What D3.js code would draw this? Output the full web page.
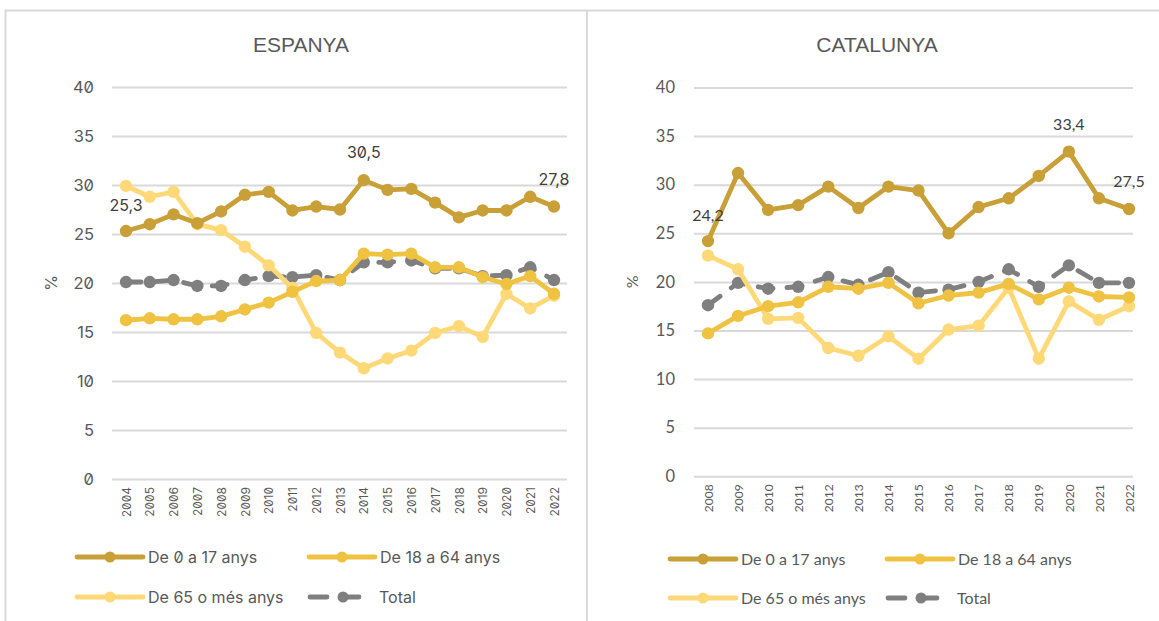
<!DOCTYPE html>
<html><head><meta charset="utf-8">
<script src="https://cdn.jsdelivr.net/npm/d3@7"></script>
<style>
html,body{margin:0;padding:0;background:#fff;}
svg{display:block;}
</style></head>
<body>
<svg id="chart" width="1159" height="621"></svg>
<script>
// ---- DATA ----
const seriesNames = ["De 0 a 17 anys", "De 18 a 64 anys", "De 65 o més anys", "Total"];
const esYears = [2004,2005,2006,2007,2008,2009,2010,2011,2012,2013,2014,2015,2016,2017,2018,2019,2020,2021,2022];
const es0to17  = [25.3,26.0,27.0,26.1,27.3,29.0,29.3,27.4,27.8,27.5,30.5,29.5,29.6,28.2,26.7,27.4,27.4,28.8,27.8];
const es18to64 = [16.2,16.4,16.3,16.3,16.6,17.3,18.0,19.1,20.2,20.3,23.0,22.9,23.0,21.6,21.6,20.6,19.9,20.7,18.9];
const es65plus = [29.9,28.8,29.3,26.0,25.4,23.7,21.8,19.5,14.9,12.9,11.3,12.3,13.1,14.9,15.6,14.5,18.9,17.4,18.7];
const esTotal  = [20.1,20.1,20.3,19.7,19.7,20.3,20.7,20.6,20.8,20.3,22.1,22.1,22.3,21.5,21.5,20.7,20.8,21.6,20.3];
const catYears = [2008,2009,2010,2011,2012,2013,2014,2015,2016,2017,2018,2019,2020,2021,2022];
const cat0to17  = [24.2,31.2,27.4,27.9,29.8,27.6,29.8,29.4,25.0,27.7,28.6,30.9,33.4,28.6,27.5];
const cat18to64 = [14.7,16.5,17.5,17.9,19.5,19.3,19.9,17.8,18.6,18.9,19.8,18.2,19.4,18.5,18.4];
const cat65plus = [22.7,21.3,16.2,16.3,13.2,12.4,14.4,12.1,15.1,15.5,19.4,12.1,18.0,16.1,17.5];
const catTotal  = [17.6,19.9,19.3,19.5,20.5,19.7,21.0,18.9,19.2,20.0,21.3,19.5,21.7,19.9,19.9];
const yTicks = [0,5,10,15,20,25,30,35,40];
// labelled points: [series index, year]
const esLabels = [[0,2004],[0,2014],[0,2022]];
const catLabels = [[0,2008],[0,2020],[0,2022]];

// ---- STYLE ----
const colors = ["#C9A038","#F0C242","#FFD878","#7F7F7F"];
const svg = d3.select("#chart");

// frame
svg.append("rect").attr("x",5.5).attr("y",10.5).attr("width",1170).attr("height",700)
  .attr("fill","none").attr("stroke","#d9d9d9").attr("stroke-width",2);
svg.append("line").attr("x1",587).attr("x2",587).attr("y1",10).attr("y2",621)
  .attr("stroke","#d9d9d9").attr("stroke-width",2);

const panels = [
  {title:"ESPANYA", titleX:301, years:esYears, series:[es0to17,es18to64,es65plus,esTotal],
   xr:[126,554], yr:[479,87], grid:[112,567], tickX:94, pctX:51, labels:esLabels,
   font:"Inter, 'Noto Sans', sans-serif", feat:"'zero' 1",
   legend:{x1:77, x2:309, y1:557, y2:597}},
  {title:"CATALUNYA", titleX:877, years:catYears, series:[cat0to17,cat18to64,cat65plus,catTotal],
   xr:[708,1129], yr:[476.3,87.5], grid:[694,1133], tickX:675, pctX:632, labels:catLabels,
   font:"Lato, 'Open Sans', sans-serif", feat:"normal",
   legend:{x1:670, x2:887, y1:559, y2:598}}
];

panels.forEach(p => {
  const g = svg.append("g").style("font-family", p.font).style("font-feature-settings", p.feat);
  const x = d3.scalePoint().domain(p.years).range(p.xr);
  const y = d3.scaleLinear().domain([0,40]).range(p.yr);

  // title
  svg.append("text").attr("x",p.titleX).attr("y",52).attr("text-anchor","middle")
    .style("font-family","'Liberation Sans',Arial,sans-serif")
    .style("font-size","21px").attr("fill","#595959").text(p.title);

  // grid
  const yAxis = d3.axisLeft(y).tickValues(yTicks).tickSize(-(p.grid[1]-p.grid[0])).tickPadding(p.grid[0]-p.tickX);
  const ya = g.append("g").attr("transform",`translate(${p.grid[0]},0)`).call(yAxis);
  ya.select(".domain").remove();
  ya.selectAll(".tick line").attr("stroke","#d9d9d9").attr("stroke-width",2);
  ya.selectAll(".tick text").attr("fill","#595959").style("font-size","16.5px").style("font-family",p.font);

  // x axis labels
  const xa = g.append("g").attr("transform",`translate(0,${p.yr[0]})`)
    .call(d3.axisBottom(x).tickSize(0).tickPadding(0));
  xa.select(".domain").remove();
  xa.selectAll(".tick text")
    .attr("transform","rotate(-90)").attr("text-anchor","end")
    .attr("x",-8).attr("y",0).attr("dy","0.35em")
    .attr("fill","#595959").style("font-size","12px").style("font-family",p.font);

  // % label
  g.append("text").attr("transform",`translate(${p.pctX},${(p.yr[0]+p.yr[1])/2}) rotate(-90)`)
    .attr("text-anchor","middle").attr("dy","0.35em").attr("fill","#595959")
    .style("font-size","16px").text("%");

  // series
  const order = [3,2,1,0];
  order.forEach(si => {
    const vals = p.series[si];
    const data = p.years.map((yr,i)=>({yr, v:vals[i]}));
    const line = d3.line().x(d=>x(d.yr)).y(d=>y(d.v));
    const path = g.append("path").datum(data).attr("d",line)
      .attr("fill","none").attr("stroke",colors[si]).attr("stroke-width",4.8)
      .attr("stroke-linejoin","round").attr("stroke-linecap","round");
    if (si===3) path.attr("stroke-dasharray","15,14");
    g.selectAll(null).data(data).enter().append("circle")
      .attr("cx",d=>x(d.yr)).attr("cy",d=>y(d.v)).attr("r",6.2).attr("fill",colors[si]);
  });

  // data labels
  p.labels.forEach(([si,yr]) => {
    const i = p.years.indexOf(yr);
    const v = p.series[si][i];
    const dy = i===0 ? -20 : -22;
    g.append("text").attr("x",x(yr)).attr("y",y(v)+dy).attr("text-anchor","middle")
      .attr("fill","#404040").style("font-size","16px")
      .text(d3.format(".1f")(v).replace(".",","));
  });

  // legend
  const L = p.legend;
  const items = [
    {si:0, x:L.x1, y:L.y1},{si:1, x:L.x2, y:L.y1},{si:2, x:L.x1, y:L.y2},{si:3, x:L.x2+1, y:L.y2}
  ];
  items.forEach(it => {
    const lg = g.append("g");
    if (it.si===3) {
      lg.append("line").attr("x1",it.x).attr("x2",it.x+17).attr("y1",it.y).attr("y2",it.y)
        .attr("stroke",colors[3]).attr("stroke-width",4.8).attr("stroke-linecap","round");
      lg.append("line").attr("x1",it.x+32).attr("x2",it.x+49).attr("y1",it.y).attr("y2",it.y)
        .attr("stroke",colors[3]).attr("stroke-width",4.8).attr("stroke-linecap","round");
      lg.append("circle").attr("cx",it.x+33).attr("cy",it.y).attr("r",5.5).attr("fill",colors[3]);
      lg.append("text").attr("x",it.x+69).attr("y",it.y).attr("dy","0.35em")
        .attr("fill","#595959").style("font-size","16px").text(seriesNames[3]);
    } else {
      lg.append("line").attr("x1",it.x).attr("x2",it.x+66).attr("y1",it.y).attr("y2",it.y)
        .attr("stroke",colors[it.si]).attr("stroke-width",4.8).attr("stroke-linecap","round");
      lg.append("circle").attr("cx",it.x+33).attr("cy",it.y).attr("r",5.5).attr("fill",colors[it.si]);
      lg.append("text").attr("x",it.x+71).attr("y",it.y).attr("dy","0.35em")
        .attr("fill","#595959").style("font-size","16px").text(seriesNames[it.si]);
    }
  });
});
</script>
</body></html>
